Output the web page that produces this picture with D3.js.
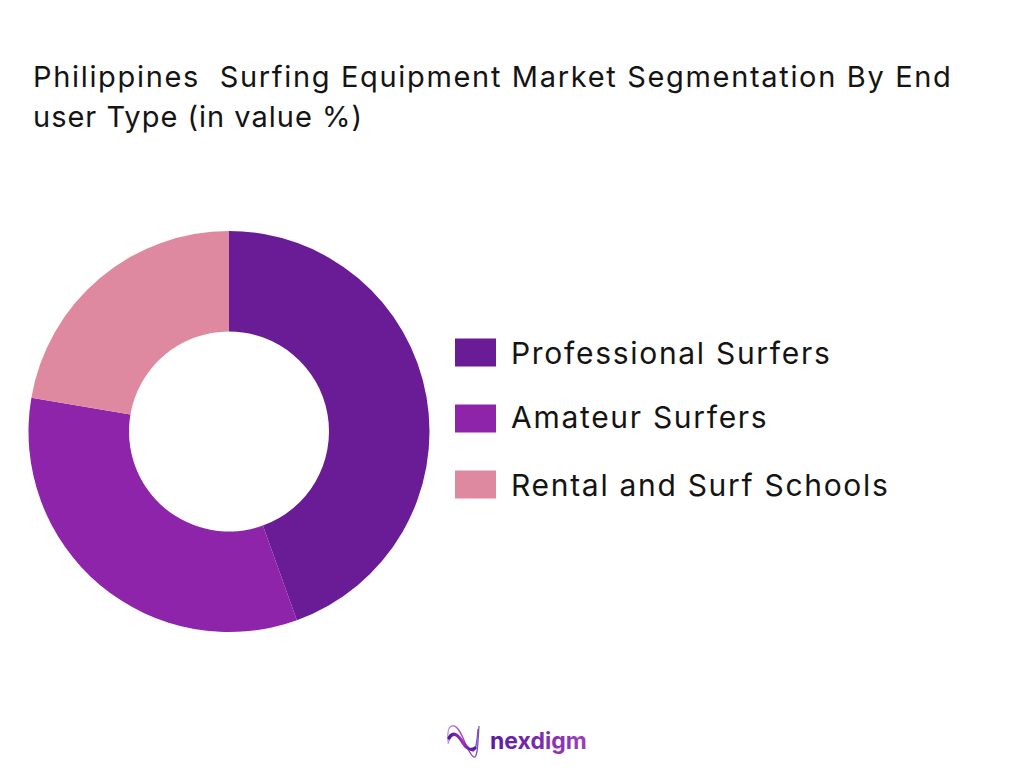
<!DOCTYPE html>
<html>
<head>
<meta charset="utf-8">
<script src="https://cdn.jsdelivr.net/npm/d3@7"></script>
<style>
  html, body { margin: 0; padding: 0; background: #fff; }
  text { font-family: "Inter", sans-serif; fill: #141414; }
</style>
</head>
<body>
<svg id="chart" width="1024" height="768"></svg>
<script>
var categories = ["Professional Surfers", "Amateur Surfers", "Rental and Surf Schools"];
var shares = [44.5, 33.2, 22.3];
var colors = ["#6a1b96", "#8e24aa", "#de89a0"];
var titleLines = ["Philippines  Surfing Equipment Market Segmentation By End", "user Type (in value %)"];

var svg = d3.select("#chart");

var defs = svg.append("defs");
var textGrad = defs.append("linearGradient").attr("id", "logoText");
textGrad.append("stop").attr("offset", "0%").attr("stop-color", "#5c1a9c");
textGrad.append("stop").attr("offset", "100%").attr("stop-color", "#9a3fc0");
var waveGrad = defs.append("linearGradient").attr("id", "logoWave");
waveGrad.append("stop").attr("offset", "0%").attr("stop-color", "#c890d8");
waveGrad.append("stop").attr("offset", "50%").attr("stop-color", "#a040c0");
waveGrad.append("stop").attr("offset", "100%").attr("stop-color", "#7a50c0");
var bandGrad = defs.append("linearGradient").attr("id", "logoBand");
bandGrad.append("stop").attr("offset", "0%").attr("stop-color", "#4a1a9c");
bandGrad.append("stop").attr("offset", "50%").attr("stop-color", "#a030b0");
bandGrad.append("stop").attr("offset", "100%").attr("stop-color", "#4a1a9c");

// the reference font runs wider than Inter, so each title line is spaced out to its width
var titleSpacing = [1.67, 1.0];

svg.selectAll(".title")
    .data(titleLines)
    .enter()
    .append("text")
    .attr("class", "title")
    .attr("x", 33)
    .attr("y", function (d, i) { return 87 + i * 40; })
    .style("white-space", "pre")
    .style("font-size", "29px")
    .style("letter-spacing", function (d, i) { return titleSpacing[i] + "px"; })
    .text(function (d) { return d; });

var pie = d3.pie().sort(null).value(function (d) { return d; });
var arc = d3.arc().innerRadius(100).outerRadius(200.5);

var donut = svg.append("g").attr("transform", "translate(229,431.5)");

donut.selectAll("path")
    .data(pie(shares))
    .enter()
    .append("path")
    .attr("d", arc)
    .attr("fill", function (d, i) { return colors[i]; });

var legendY = d3.scalePoint().domain(categories).range([352.5, 484.5]);
var legendTextShift = [0, -2, 0];

var legend = svg.selectAll(".legend")
    .data(categories)
    .enter()
    .append("g")
    .attr("class", "legend")
    .attr("transform", function (d) { return "translate(455," + legendY(d) + ")"; });

legend.append("rect")
    .attr("y", -14)
    .attr("width", 41)
    .attr("height", 28)
    .attr("fill", function (d, i) { return colors[i]; });

legend.append("text")
    .attr("x", 56)
    .attr("y", function (d, i) { return 11 + legendTextShift[i]; })
    .style("font-size", "30px")
    .style("letter-spacing", "1.7px")
    .text(function (d) { return d; });

// footer logo
var logo = svg.append("g").attr("transform", "translate(445,724)");
logo.append("path")
    .attr("d", "M3,18 C2,6 4,1 9,2 C17,3 22,31 29,33 C33,34 33,14 34,2")
    .attr("fill", "none")
    .attr("stroke", "url(#logoWave)")
    .attr("stroke-width", 1.3);
logo.append("path")
    .attr("d", "M3,20 C5,12 9,10 13,12 C19,16 22,26 28,27 C31,27 32,18 33,5")
    .attr("fill", "none")
    .attr("stroke", "url(#logoWave)")
    .attr("stroke-width", 1.3);
logo.append("path")
    .attr("d", "M4,14 C8,6 14,12 18,19 C22,25 26,27 30,24")
    .attr("fill", "none")
    .attr("stroke", "url(#logoBand)")
    .attr("stroke-width", 3.2)
    .attr("stroke-linecap", "round");
svg.append("text")
    .attr("x", 490)
    .attr("y", 749)
    .style("font-size", "23px")
    .style("font-weight", "700")
    .style("fill", "url(#logoText)")
    .text("nexdigm");
</script>
</body>
</html>
